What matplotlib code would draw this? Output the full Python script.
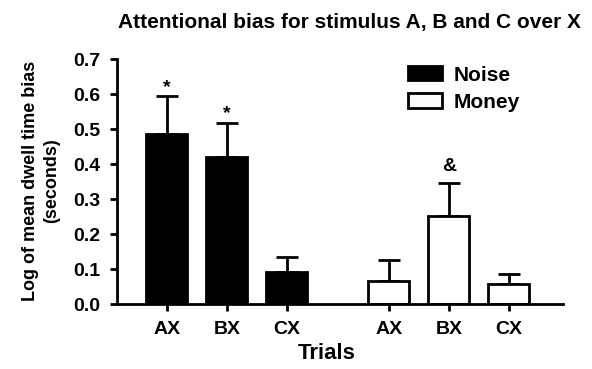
import numpy as np
from matplotlib import pyplot as plt

plt.rcParams['font.family'] = ['Liberation Sans', 'DejaVu Sans']
plt.rcParams['font.weight'] = 'bold'

trials = ["AX", "BX", "CX"]
noise_vals = [0.486, 0.420, 0.091]
noise_err = [0.108, 0.098, 0.044]
money_vals = [0.066, 0.252, 0.058]
money_err = [0.060, 0.094, 0.028]
noise_marks = ["*", "*", ""]
money_marks = ["", "&", ""]

x_noise = np.array([0, 1, 2])
x_money = np.array([3.7, 4.7, 5.7])

fig = plt.figure(figsize=(5.92, 3.69), dpi=100)
ax = fig.add_axes([0.1976, 0.176, 0.753, 0.664])

w = 0.68
ekw = dict(elinewidth=2, capthick=2, capsize=8)
ax.bar(x_noise, noise_vals, w, color='black', edgecolor='black', linewidth=2,
       label='Noise', zorder=2)
ax.errorbar(x_noise, noise_vals, yerr=[np.zeros(3), noise_err], fmt='none',
            ecolor='black', zorder=1, **ekw)
ax.bar(x_money, money_vals, w, color='white', edgecolor='black', linewidth=2,
       label='Money', zorder=2)
ax.errorbar(x_money, money_vals, yerr=[np.zeros(3), money_err], fmt='none',
            ecolor='black', zorder=1, **ekw)

# significance marks above the error bars
gap = {"*": 0.012, "&": 0.035}
for xs, vals, errs, marks in [(x_noise, noise_vals, noise_err, noise_marks),
                              (x_money, money_vals, money_err, money_marks)]:
    for xi, v, e, m in zip(xs, vals, errs, marks):
        if m:
            ax.text(xi, v + e + gap[m], m, ha='center', va='baseline',
                    fontsize=14, fontweight='bold')

ax.set_xlim(-0.83, 6.6)
ax.set_ylim(0, 0.7)
ax.set_yticks(np.arange(0, 0.71, 0.1))
ax.set_yticklabels([f"{t:.1f}" for t in np.arange(0, 0.71, 0.1)])
ax.set_xticks(list(x_noise) + list(x_money))
ax.set_xticklabels(trials + trials)
ax.tick_params(axis='both', width=2, length=5)
ax.tick_params(axis='y', labelsize=14, pad=7)
ax.tick_params(axis='x', labelsize=14, pad=7)
for s in ['top', 'right']:
    ax.spines[s].set_visible(False)
for s in ['left', 'bottom']:
    ax.spines[s].set_linewidth(2)

ax.set_xlabel("Trials", fontsize=16, fontweight='bold', va='center')
ax.xaxis.set_label_coords(0.471, -0.2)
fig.text(41 / 592, 0.51, "Log of mean dwell time bias\n(seconds)", fontsize=13,
         fontweight='bold', rotation=90, ha='center', va='center',
         linespacing=1.3, multialignment='center')
fig.text(0.59, 0.94, "Attentional bias for stimulus A, B and C over X",
         fontsize=15, fontweight='bold', ha='center', va='center')

leg = ax.legend(loc='upper left', bbox_to_anchor=(0.61, 1.05), frameon=False,
                fontsize=15, handlelength=1.63, handleheight=0.67,
                handletextpad=0.6, labelspacing=0.4)

fig.savefig("out.png", dpi=100)
